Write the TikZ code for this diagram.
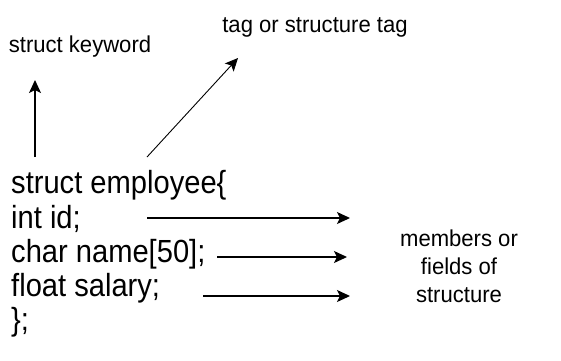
\documentclass[tikz,border=0pt]{standalone}
\usepackage{fontspec}
\setmainfont{Liberation Sans}
\newfontfamily\codefont[FakeStretch=0.91]{Liberation Sans}
\newfontfamily\lblfont[FakeStretch=0.96]{Liberation Sans}
\usetikzlibrary{arrows.meta,positioning}

\begin{document}
\begin{tikzpicture}[
  x=1pt, y=-1pt,
  >={Stealth[length=13pt, width=12pt, inset=3pt]},
  code/.style={anchor=base west, inner sep=0pt,
               font=\codefont\fontsize{32}{34}\selectfont},
  lbl/.style={inner sep=0pt, align=center,
              font=\lblfont\fontsize{23}{28}\selectfont},
  arr/.style={->, line width=1.3pt},
]
  \useasboundingbox (0,0) rectangle (561,360);

  %% Code lines
  \node[code] (head)   at (11,193) {struct employee\{};
  \node[code] (fid)    at (11,228) {int id;};
  \node[code] (fname)  at (11,262) {char name[50];};
  \node[code] (fsal)   at (11,296) {float salary;};
  \node[code] (tail)   at (11,330) {\};};

  %% Labels
  \node[lbl, anchor=base] (kw)  at (80,52)  {struct keyword};
  \node[lbl, anchor=base] (tag) at (315,32) {tag or structure tag};
  \node[lbl] (mem) at (459,266) {members or\\fields of\\structure};

  %% Arrow ends
  \coordinate (kwfrom)  at (35,157);
  \coordinate (kwto)    at (35,80);
  \coordinate (tagfrom) at (147,157);
  \coordinate (tagto)   at (238,58);
  \coordinate (idfrom)   at (147,218);
  \coordinate (idto)     at (350,218);
  \coordinate (namefrom) at (217,257);
  \coordinate (nameto)   at (347,257);
  \coordinate (salfrom)  at (203,296);
  \coordinate (salto)    at (350,296);

  %% Arrows -- upper labels
  \draw[arr] (kwfrom)  -- (kwto);
  \draw[arr, line width=0.9pt] (tagfrom) -- (tagto);

  %% Arrows -- members
  \draw[arr] (idfrom)   -- (idto);
  \draw[arr] (namefrom) -- (nameto);
  \draw[arr] (salfrom)  -- (salto);
\end{tikzpicture}
\end{document}
